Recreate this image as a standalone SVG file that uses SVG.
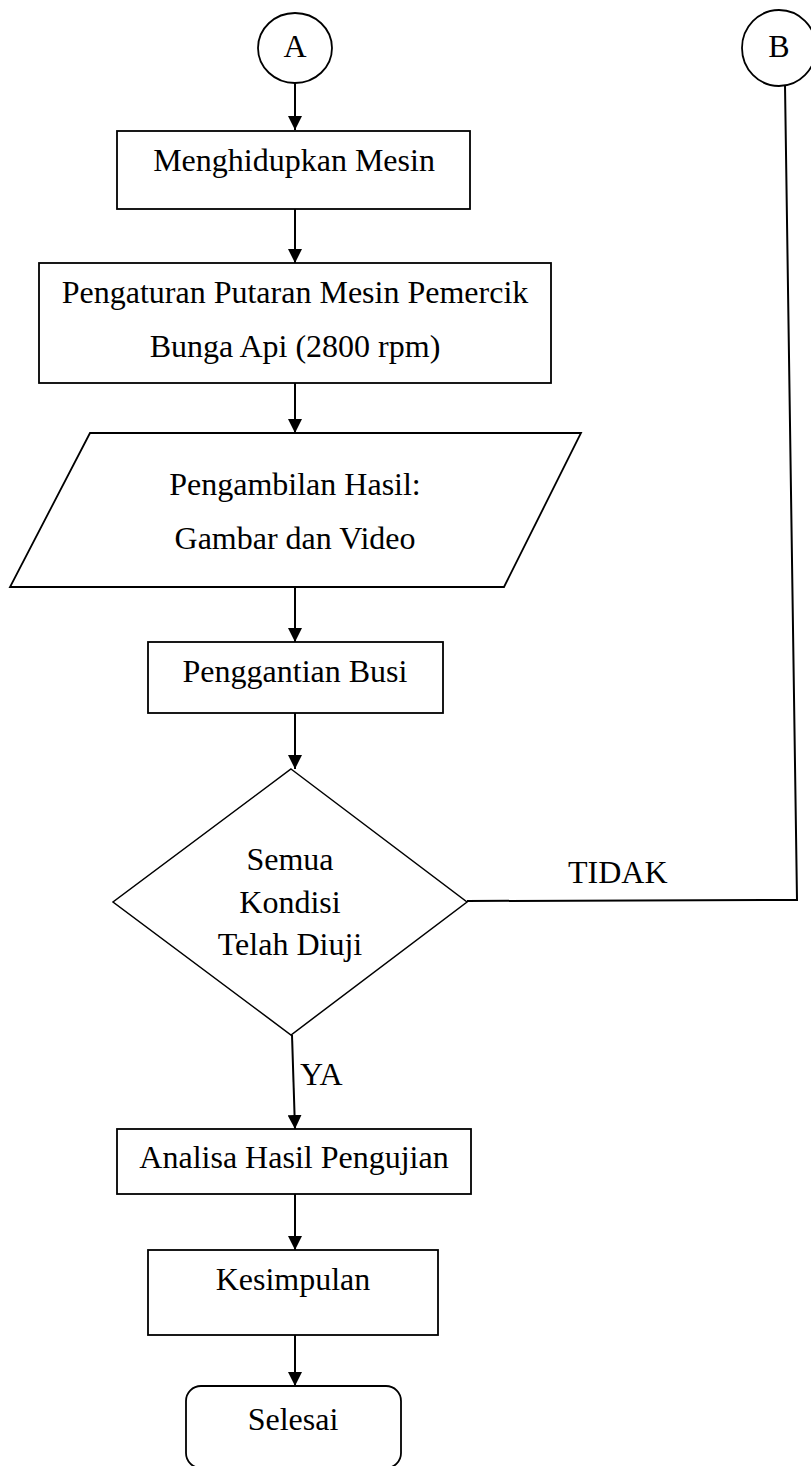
<svg xmlns="http://www.w3.org/2000/svg" width="811" height="1466" viewBox="0 0 811 1466">
<style>
.shape{fill:#fff;stroke:#000;stroke-width:1.8}
.thin{fill:#fff;stroke:#000;stroke-width:1.5}
.lbl{font-family:"Liberation Serif","Times New Roman",serif;font-size:32px;fill:#000;text-anchor:middle}
.lblL{font-family:"Liberation Serif","Times New Roman",serif;font-size:32px;fill:#000}
.conn{fill:none;stroke:#000;stroke-width:2}
</style>
<defs>
<marker id="arr" viewBox="0 0 14 14" refX="14" refY="7" markerWidth="14" markerHeight="14" markerUnits="userSpaceOnUse" orient="auto">
<path d="M0,0 L14,7 L0,14 Z" fill="#000"/>
</marker>
</defs>
<rect width="811" height="1466" fill="#fff"/>
<g id="connectors">
<line class="conn" x1="295" y1="83" x2="295" y2="130" marker-end="url(#arr)"/>
<line class="conn" x1="295" y1="209" x2="295" y2="263" marker-end="url(#arr)"/>
<line class="conn" x1="295" y1="383" x2="295" y2="433" marker-end="url(#arr)"/>
<line class="conn" x1="295" y1="587" x2="295" y2="642" marker-end="url(#arr)"/>
<line class="conn" x1="295" y1="713" x2="295" y2="769" marker-end="url(#arr)"/>
<line class="conn" x1="292" y1="1035" x2="295" y2="1129" marker-end="url(#arr)"/>
<line class="conn" x1="295" y1="1194" x2="295" y2="1250" marker-end="url(#arr)"/>
<line class="conn" x1="295" y1="1335" x2="295" y2="1386" marker-end="url(#arr)"/>
<polyline class="conn" points="467,901 797,900 785,85"/>
<text class="lblL" x="568" y="883">TIDAK</text>
<text class="lblL" x="300" y="1085">YA</text>
</g>
<g id="nodeA">
<ellipse class="shape" cx="295" cy="48" rx="37" ry="35"/>
<text class="lbl" x="295" y="57">A</text>
</g>
<g id="nodeB">
<ellipse class="shape" cx="779" cy="48" rx="37" ry="38"/>
<text class="lbl" x="779" y="57">B</text>
</g>
<g id="menghidupkan">
<rect class="shape" x="117" y="131" width="353" height="78"/>
<text class="lbl" x="294" y="171">Menghidupkan Mesin</text>
</g>
<g id="pengaturan">
<rect class="shape" x="39" y="263" width="512" height="120"/>
<text class="lbl" x="295" y="303">Pengaturan Putaran Mesin Pemercik</text>
<text class="lbl" x="295" y="357">Bunga Api (2800 rpm)</text>
</g>
<g id="pengambilan">
<polygon class="shape" points="90,433 581,433 504,587 10,587"/>
<text class="lbl" x="295" y="495">Pengambilan Hasil:</text>
<text class="lbl" x="295" y="549">Gambar dan Video</text>
</g>
<g id="penggantian">
<rect class="shape" x="148" y="642" width="295" height="71"/>
<text class="lbl" x="295" y="682">Penggantian Busi</text>
</g>
<g id="kondisi">
<polygon class="thin" points="291,769 467,902 291,1035 113,902"/>
<text class="lbl" x="290" y="870">Semua</text>
<text class="lbl" x="290" y="913">Kondisi</text>
<text class="lbl" x="290" y="955">Telah Diuji</text>
</g>
<g id="analisa">
<rect class="shape" x="117" y="1129" width="354" height="65"/>
<text class="lbl" x="294" y="1168">Analisa Hasil Pengujian</text>
</g>
<g id="kesimpulan">
<rect class="shape" x="148" y="1250" width="290" height="85"/>
<text class="lbl" x="293" y="1290">Kesimpulan</text>
</g>
<g id="selesai">
<rect class="shape" x="186" y="1386" width="215" height="82" rx="15" ry="15"/>
<text class="lbl" x="293" y="1430">Selesai</text>
</g>
</svg>
